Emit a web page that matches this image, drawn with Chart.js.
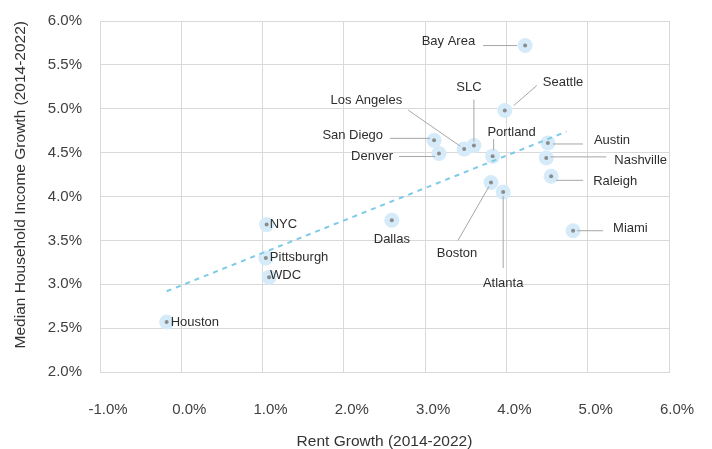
<!DOCTYPE html>
<html>
<head>
<meta charset="utf-8">
<script src="https://cdn.jsdelivr.net/npm/chart.js@4/dist/chart.umd.min.js"></script>
<style>
  html,body{margin:0;padding:0;background:#fff;}
  #wrap{width:712px;height:449px;position:relative;}
</style>
</head>
<body>
<div id="wrap"><canvas id="ch"></canvas></div>
<script>
// data
const cities = ['Houston','NYC','Pittsburgh','WDC','Dallas','San Diego','Denver','Los Angeles','SLC','Portland','Boston','Atlanta','Seattle','Bay Area','Austin','Nashville','Raleigh','Miami'];
const rentGrowth   = [-0.18, 1.05, 1.04, 1.08, 2.59, 3.11, 3.17, 3.48, 3.60, 3.83, 3.81, 3.96, 3.98, 4.23, 4.51, 4.49, 4.55, 4.82];
const incomeGrowth = [ 2.57, 3.68, 3.30, 3.08, 3.73, 4.64, 4.49, 4.54, 4.58, 4.46, 4.16, 4.05, 4.98, 5.72, 4.61, 4.44, 4.23, 3.61];
const trendX = [-0.18, 4.74];
const trendY = [2.92, 4.74];

// label placement (pixel offsets from the point): text pos, align, leader line
const LBL = {
  'Houston':    {dx:4,   dy:0,   a:'left'},
  'NYC':        {dx:3,   dy:0,   a:'left'},
  'Pittsburgh': {dx:4,   dy:-1,  a:'left'},
  'WDC':        {dx:1,   dy:-2,  a:'left'},
  'Dallas':     {dx:0,   dy:19,  a:'center'},
  'San Diego':  {dx:-51, dy:-5,  a:'right', ln:[-44,-2,-4,-2]},
  'Denver':     {dx:-46, dy:3,   a:'right', ln:[-40,3,-4,3]},
  'Los Angeles':{dx:-62, dy:-49, a:'right', ln:[-56,-39,-4,-3]},
  'SLC':        {dx:-5,  dy:-58, a:'center',ln:[0,-46,0,-4]},
  'Portland':   {dx:19,  dy:-24, a:'center',ln:[1,-17,1,-6]},
  'Boston':     {dx:-34, dy:71,  a:'center',ln:[-33,58,-2,4]},
  'Atlanta':    {dx:0,   dy:91,  a:'center',ln:[0,4,0,76]},
  'Seattle':    {dx:38,  dy:-28, a:'left',  ln:[32,-25,9,-5]},
  'Bay Area':   {dx:-50, dy:-4,  a:'right', ln:[-42,0,-8,0]},
  'Austin':     {dx:46,  dy:-3,  a:'left',  ln:[5,1,35,1]},
  'Nashville':  {dx:68,  dy:3,   a:'left',  ln:[4,-1,60,-1]},
  'Raleigh':    {dx:42,  dy:5,   a:'left',  ln:[5,4,32,4]},
  'Miami':      {dx:40,  dy:-2,  a:'left',  ln:[4,0,30,0]},
};

const pts = cities.map((c,i)=>({x:rentGrowth[i], y:incomeGrowth[i]}));
const GRID = '#d9d9d9';
const FONT = "'Liberation Sans', Arial, sans-serif";

const cityLabels = {
  id:'cityLabels',
  afterDatasetsDraw(chart){
    const {ctx, scales:{x, y}} = chart;
    ctx.save();
    ctx.font = '13px ' + FONT;
    ctx.textBaseline = 'middle';
    cities.forEach((c,i)=>{
      const L = LBL[c]; if(!L) return;
      const px = x.getPixelForValue(rentGrowth[i]);
      const py = y.getPixelForValue(incomeGrowth[i]);
      if(L.ln){
        ctx.strokeStyle = '#a6a6a6'; ctx.lineWidth = 1;
        ctx.beginPath();
        ctx.moveTo(px+L.ln[0], py+L.ln[1]);
        ctx.lineTo(px+L.ln[2], py+L.ln[3]);
        ctx.stroke();
      }
      ctx.fillStyle = '#2e2e2e';
      ctx.textAlign = L.a;
      ctx.fillText(c, px+L.dx, py+L.dy);
    });
    ctx.restore();
  }
};

new Chart(document.getElementById('ch'), {
  type:'scatter',
  data:{
    datasets:[
      {label:'bubble', data:pts, pointRadius:7.5, pointHoverRadius:7.5, backgroundColor:'#d5ebf9', borderWidth:0, order:3},
      {label:'trend', type:'line', data:trendX.map((v,i)=>({x:v, y:trendY[i]})), showLine:true,
        borderColor:'#7ecbe7', borderWidth:2, borderDash:[5,5], pointRadius:0, fill:false, order:2},
      {label:'dot', data:pts, pointRadius:2, pointHoverRadius:2, backgroundColor:'#8c8c8c', borderWidth:0, order:1},
    ]
  },
  options:{
    responsive:true, maintainAspectRatio:false, animation:false,
    layout:{padding:{top:21, right:43, left:0, bottom:0}},
    plugins:{legend:{display:false}, tooltip:{enabled:false}},
    scales:{
      x:{
        type:'linear', min:-1, max:6,
        ticks:{stepSize:1, padding:29, labelOffset:8, color:'#404040', font:{family:FONT, size:15},
          callback:v=>v.toFixed(1)+'%'},
        grid:{color:GRID, drawTicks:false},
        border:{color:GRID},
        title:{display:true, text:'Rent Growth (2014-2022)', color:'#333', font:{family:FONT, size:15.5}, padding:{top:0,bottom:-2}},
        afterFit(s){ s.height = 77; s.paddingLeft = 0; s.paddingRight = 0; }
      },
      y:{
        type:'linear', min:2, max:6,
        ticks:{stepSize:0.5, padding:18, color:'#404040', font:{family:FONT, size:15},
          callback:v=>v.toFixed(1)+'%'},
        grid:{color:GRID, drawTicks:false},
        border:{color:GRID},
        title:{display:true, align:'end', text:'Median Household Income Growth (2014-2022)', color:'#333', font:{family:FONT, size:15.5}, padding:{top:11,bottom:0}},
        afterFit(s){ s.width = 100; s.paddingTop = 0; s.paddingBottom = 0; }
      }
    }
  },
  plugins:[cityLabels]
});
</script>
</body>
</html>
